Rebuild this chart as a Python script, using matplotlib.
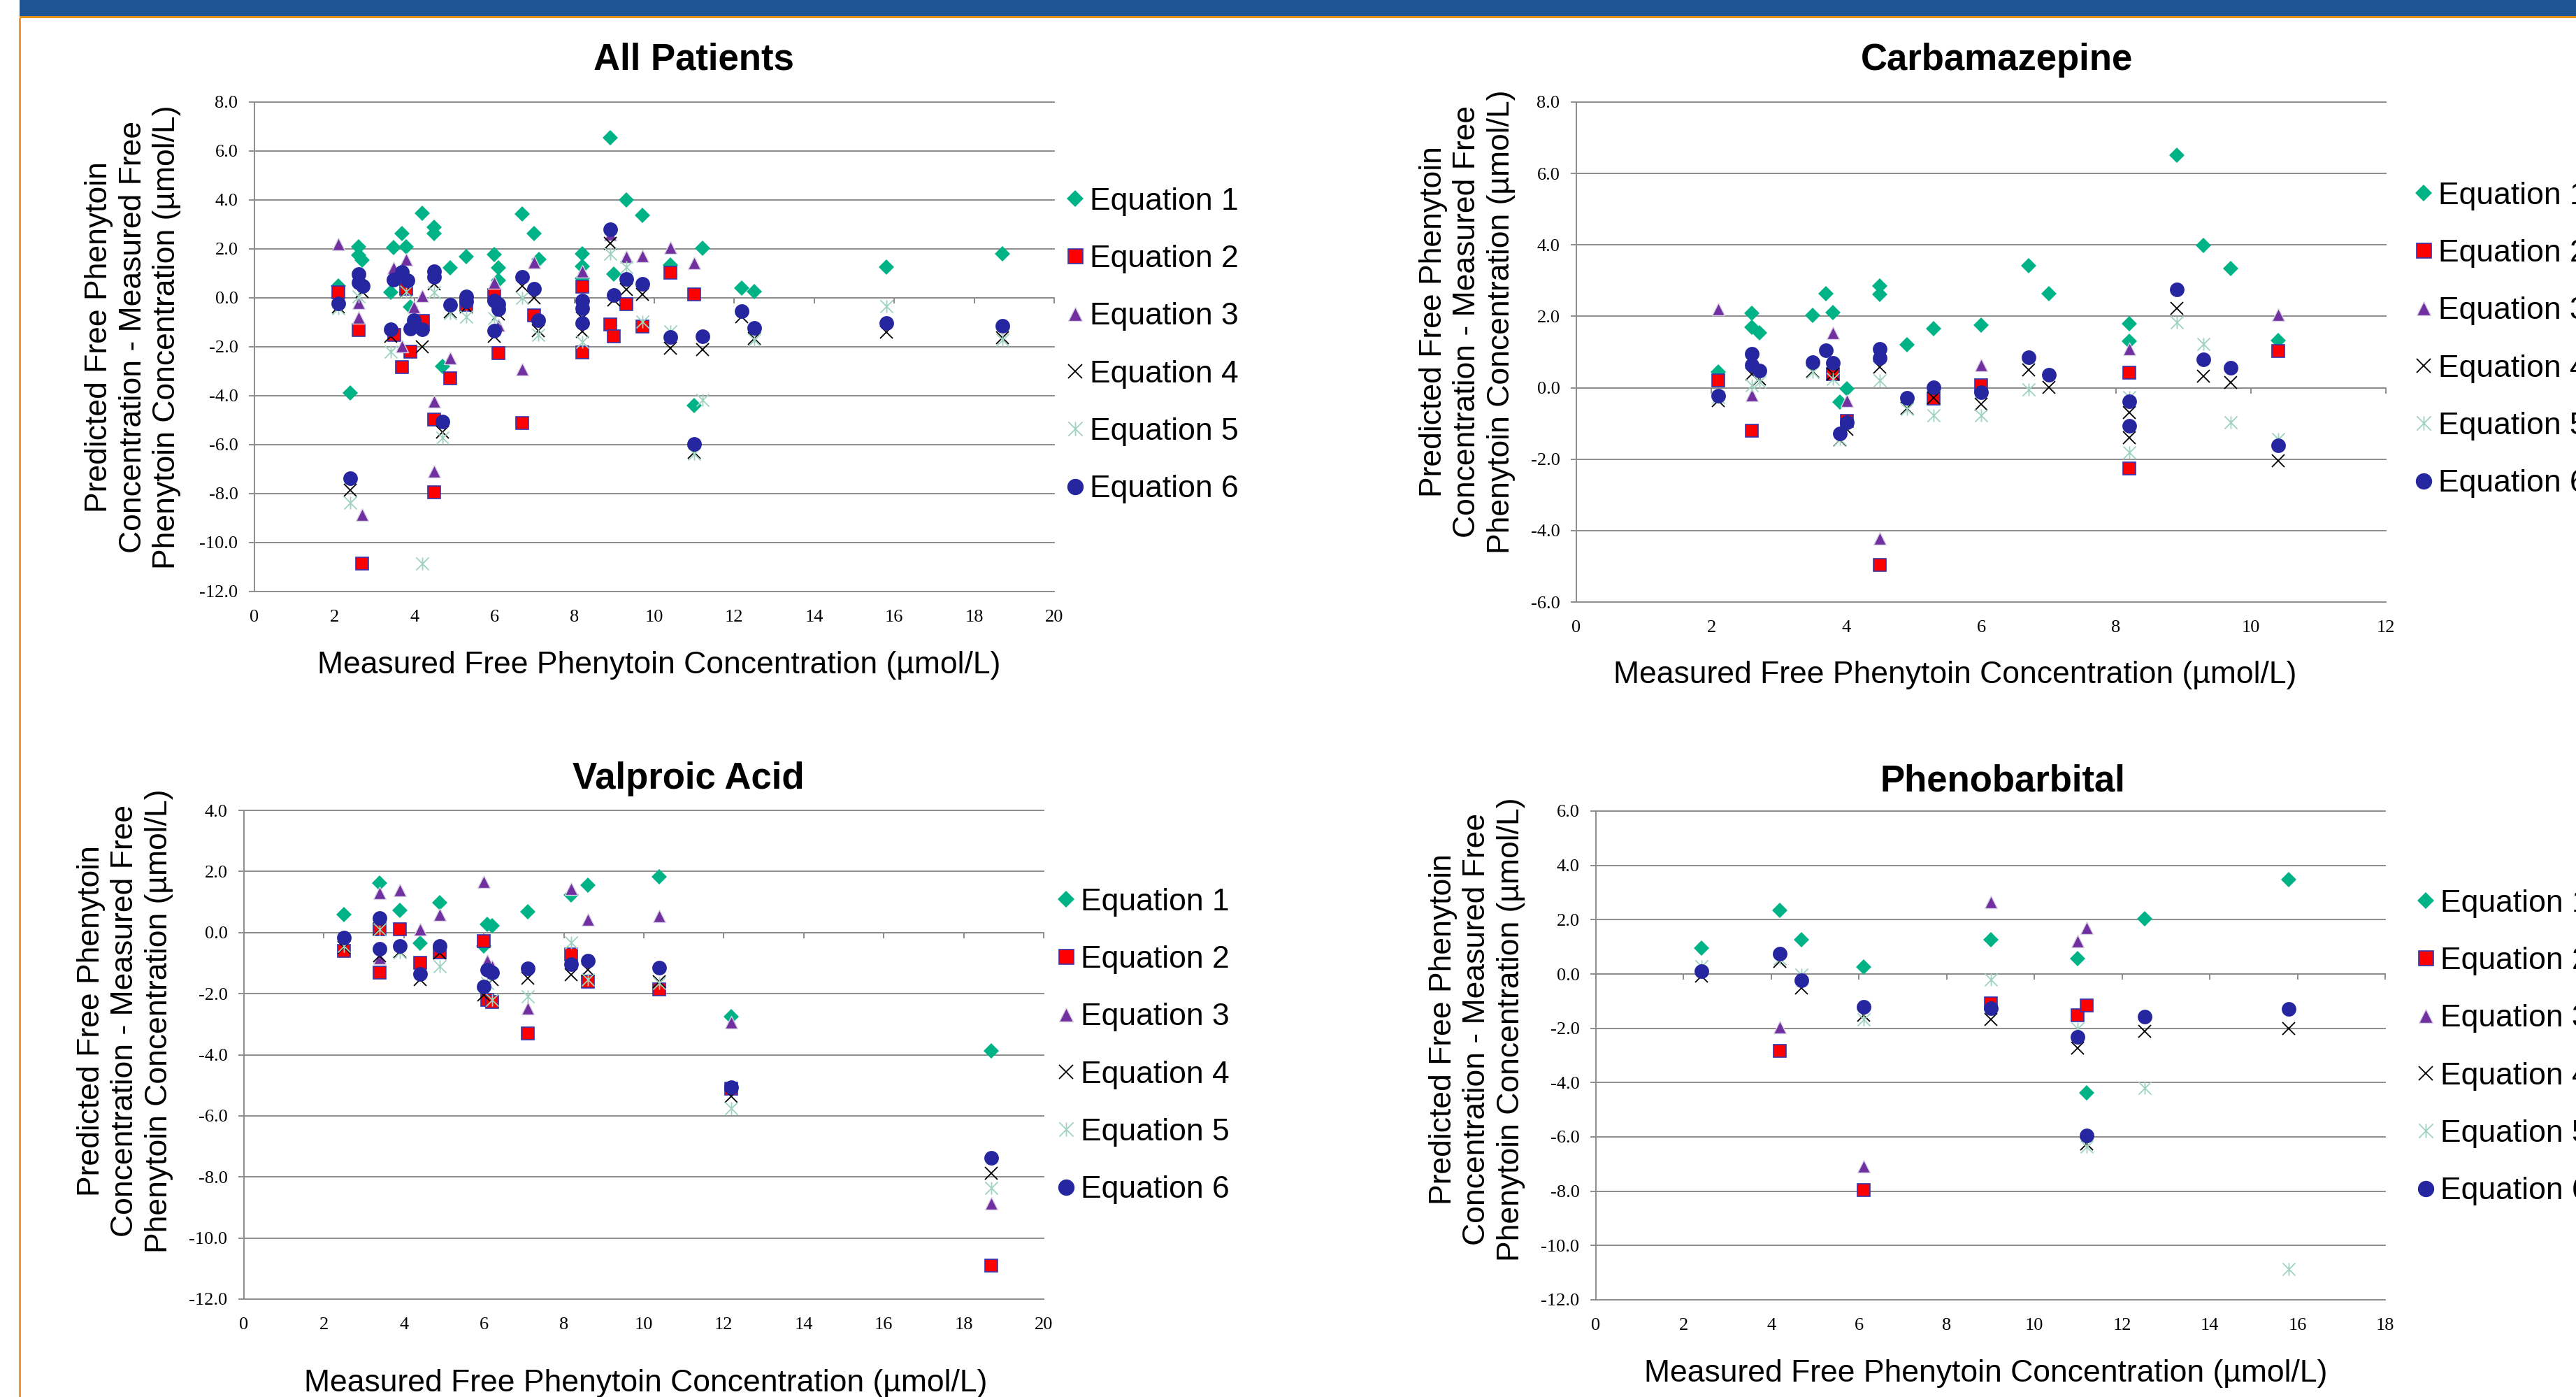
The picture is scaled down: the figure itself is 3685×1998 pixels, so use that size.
import matplotlib
matplotlib.use("Agg")
import matplotlib.pyplot as plt
from matplotlib.path import Path
from matplotlib.patches import Rectangle
from matplotlib.ticker import FormatStrFormatter, MultipleLocator

plt.rcParams["font.family"] = ["Liberation Sans", "DejaVu Sans"]
plt.rcParams["axes.unicode_minus"] = False

# -----------------------------
# 1. DATA
# -----------------------------

eq_names = ["Equation 1", "Equation 2", "Equation 3", "Equation 4", "Equation 5", "Equation 6"]

# All Patients
all_x1 = [8.90, 9.30, 9.70, 4.19, 4.50, 4.50, 3.69, 6.69, 6.99, 2.60, 2.60, 2.70, 3.48, 3.80, 5.30, 4.90, 6.00, 6.10,
          6.10, 7.12, 8.20, 8.20, 8.20, 8.99, 10.40, 11.20, 12.19, 12.50, 2.10, 2.40, 3.41, 3.90, 4.70, 11.00, 15.80, 18.70]
all_y1 = [6.53, 3.99, 3.36, 3.47, 2.90, 2.62, 2.64, 3.42, 2.62, 2.10, 1.73, 1.54, 2.05, 2.10, 1.68, 1.22, 1.78, 1.24,
          0.72, 1.58, 1.80, 1.28, 0.80, 0.96, 1.35, 2.04, 0.40, 0.25, 0.49, -3.88, 0.22, -0.36, -2.80, -4.39, 1.27, 1.79]
all_x2 = [2.10, 2.60, 2.69, 3.50, 3.69, 3.90, 3.80, 4.21, 4.50, 4.50, 4.90, 5.30, 6.00, 6.10, 6.69, 6.99, 8.20, 8.20,
          8.90, 8.99, 9.30, 9.70, 10.40, 11.00]
all_y2 = [0.22, -1.30, -10.86, -1.52, -2.83, -2.20, 0.36, -0.94, -4.96, -7.94, -3.29, -0.29, 0.12, -2.27, -5.11, -0.70,
          0.46, -2.24, -1.08, -1.58, -0.26, -1.17, 1.04, 0.15]
all_x3 = [2.10, 2.60, 2.60, 2.69, 3.48, 3.80, 3.69, 3.99, 4.20, 4.50, 4.50, 4.90, 6.00, 6.10, 6.69, 6.99, 8.20, 8.90,
          9.30, 9.70, 10.40, 11.00]
all_y3 = [2.21, -0.19, -0.81, -8.87, 1.22, 1.56, -1.97, -0.36, 0.10, -4.22, -7.09, -2.47, 0.63, -1.10, -2.91, 1.46,
          1.08, 2.60, 1.69, 1.72, 2.06, 1.42]
all_x4 = [2.10, 2.40, 2.70, 3.41, 3.80, 4.20, 4.50, 4.70, 4.90, 5.30, 6.00, 6.10, 6.69, 6.99, 7.10, 8.20, 8.20, 8.90,
          8.99, 9.30, 9.70, 10.40, 11.00, 11.20, 12.19, 12.50, 15.80, 18.70]
all_y4 = [-0.36, -7.87, 0.26, -1.58, 0.26, -1.99, 0.56, -5.48, -0.56, -0.36, -1.58, -0.67, 0.49, -0.01, -1.35, -1.38,
          -0.83, 2.24, -0.08, 0.33, 0.15, -2.06, -6.30, -2.10, -0.77, -1.65, -1.41, -1.63]
all_x5 = [2.10, 2.40, 2.60, 3.41, 3.80, 4.50, 4.20, 4.70, 4.90, 5.30, 6.00, 6.69, 7.10, 8.20, 8.90, 9.30, 9.70, 10.40,
          11.20, 11.00, 12.50, 15.80, 18.70]
all_y5 = [-0.42, -8.37, 0.05, -2.20, 0.26, 0.22, -10.85, -5.72, -0.63, -0.77, -0.83, -0.01, -1.52, -1.79, 1.80, 1.26,
          -0.97, -1.38, -4.18, -6.37, -1.72, -0.33, -1.72]
all_x6 = [2.10, 2.40, 2.60, 2.60, 2.71, 3.41, 3.48, 3.69, 3.82, 3.99, 3.90, 4.20, 4.50, 4.50, 4.70, 4.90, 5.30, 5.30,
          6.00, 6.10, 6.10, 6.00, 6.69, 6.99, 7.10, 8.20, 8.20, 8.20, 8.90, 8.99, 9.30, 9.70, 10.40, 11.00, 11.20,
          12.19, 12.50, 15.80, 18.70]
all_y6 = [-0.22, -7.36, 0.97, 0.63, 0.49, -1.28, 0.74, 1.07, 0.71, -0.90, -1.27, -1.28, 1.08, 0.87, -5.07, -0.29, 0.05,
          -0.15, -0.12, -0.26, -0.45, -1.35, 0.87, 0.37, -0.90, -0.12, -0.42, -1.04, 2.79, 0.12, 0.78, 0.57, -1.61,
          -5.96, -1.58, -0.53, -1.22, -1.04, -1.15]

# Carbamazepine
cbz_x1 = [2.10, 2.60, 2.60, 2.71, 3.50, 3.70, 3.80, 3.91, 4.01, 4.50, 4.50, 4.90, 5.30, 6.00, 6.70, 7.00, 8.20, 8.20,
          8.90, 9.30, 9.70, 10.40]
cbz_y1 = [0.44, 2.08, 1.70, 1.54, 2.03, 2.63, 2.10, -0.40, -0.03, 2.85, 2.61, 1.21, 1.66, 1.75, 3.41, 2.63, 1.80, 1.30,
          6.52, 3.98, 3.34, 1.33]
cbz_x2 = [2.10, 2.60, 3.80, 4.01, 4.50, 5.30, 6.00, 8.20, 8.20, 10.40]
cbz_y2 = [0.20, -1.20, 0.39, -0.92, -4.97, -0.31, 0.07, 0.42, -2.26, 1.02]
cbz_x3 = [2.10, 2.60, 3.80, 4.01, 4.50, 6.00, 8.20, 10.40]
cbz_y3 = [2.20, -0.20, 1.54, -0.36, -4.22, 0.63, 1.08, 2.05]
cbz_x4 = [2.10, 2.60, 2.71, 3.50, 3.80, 3.91, 4.01, 4.50, 4.90, 5.30, 6.00, 6.70, 7.00, 8.20, 8.20, 8.90, 9.30, 9.70,
          10.40]
cbz_y4 = [-0.36, 0.39, 0.25, 0.46, 0.39, -1.46, -1.17, 0.58, -0.57, -0.29, -0.45, 0.51, 0.02, -0.70, -1.40, 2.22, 0.32,
          0.14, -2.04]
cbz_x5 = [2.10, 2.60, 2.71, 3.50, 3.80, 3.91, 4.50, 4.90, 5.30, 6.00, 6.70, 8.20, 8.20, 8.90, 9.30, 9.70, 10.40]
cbz_y5 = [-0.26, 0.07, 0.16, 0.44, 0.25, -1.43, 0.21, -0.59, -0.78, -0.78, -0.05, -0.26, -1.81, 1.84, 1.22, -0.96,
          -1.43]
cbz_x6 = [2.10, 2.60, 2.60, 2.71, 3.50, 3.70, 3.80, 3.91, 4.01, 4.50, 4.50, 4.90, 5.30, 6.00, 6.70, 7.00, 8.20, 8.20,
          8.90, 9.30, 9.70, 10.40]
cbz_y6 = [-0.23, 0.96, 0.63, 0.49, 0.72, 1.05, 0.70, -1.29, -0.96, 1.08, 0.84, -0.29, 0.02, -0.12, 0.86, 0.37, -0.38,
          -1.06, 2.76, 0.79, 0.56, -1.62]

# Valproic Acid
vpa_x1 = [2.50, 3.40, 3.90, 4.40, 4.90, 6.09, 6.21, 5.99, 7.10, 8.19, 8.60, 10.39, 12.19, 18.69]
vpa_y1 = [0.60, 1.62, 0.72, -0.35, 0.98, 0.27, 0.23, -0.43, 0.68, 1.23, 1.56, 1.82, -2.76, -3.87]
vpa_x2 = [2.50, 3.40, 3.40, 3.90, 4.40, 4.90, 5.99, 6.09, 6.21, 7.10, 8.19, 8.60, 10.39, 12.19, 18.69]
vpa_y2 = [-0.60, 0.10, -1.32, 0.12, -0.99, -0.65, -0.27, -2.21, -2.28, -3.31, -0.71, -1.60, -1.87, -5.11, -10.89]
vpa_x3 = [3.40, 3.40, 3.90, 4.40, 4.90, 5.99, 6.09, 6.21, 7.10, 8.19, 8.60, 10.39, 12.19, 18.69]
vpa_y3 = [1.29, -0.82, 1.40, 0.10, 0.59, 1.67, -0.93, -1.10, -2.48, 1.43, 0.42, 0.54, -2.93, -8.86]
vpa_x4 = [2.50, 3.40, 3.40, 3.90, 4.40, 4.90, 5.99, 6.21, 7.10, 8.19, 8.60, 10.39, 12.19, 18.69]
vpa_y4 = [-0.49, 0.12, -0.76, -0.63, -1.54, -0.68, -2.04, -1.54, -1.49, -1.37, -1.21, -1.60, -5.37, -7.89]
vpa_x5 = [2.50, 3.40, 3.90, 4.90, 6.09, 6.21, 7.10, 8.19, 8.60, 10.39, 12.19, 18.69]
vpa_y5 = [-0.43, 0.12, -0.65, -1.10, -1.65, -2.21, -2.10, -0.32, -1.54, -1.65, -5.75, -8.36]
vpa_x6 = [2.50, 3.40, 3.40, 3.90, 4.40, 4.90, 5.99, 6.09, 6.21, 7.10, 8.19, 8.60, 10.39, 12.19, 18.69]
vpa_y6 = [-0.16, 0.48, -0.54, -0.43, -1.35, -0.45, -1.76, -1.21, -1.30, -1.18, -1.04, -0.91, -1.15, -5.07, -7.38]

# Phenobarbital
pb_x1 = [2.40, 4.20, 4.69, 6.10, 9.00, 10.99, 11.20, 12.51, 15.80]
pb_y1 = [0.95, 2.34, 1.25, 0.26, 1.26, 0.56, -4.39, 2.03, 3.47]
pb_x2 = [4.20, 6.10, 9.00, 10.99, 11.20]
pb_y2 = [-2.83, -7.96, -1.08, -1.52, -1.17]
pb_x3 = [4.20, 6.10, 9.00, 10.99, 11.20]
pb_y3 = [-1.96, -7.09, 2.66, 1.22, 1.70]
pb_x4 = [2.40, 4.20, 4.69, 6.10, 9.00, 10.99, 11.20, 12.51, 15.80]
pb_y4 = [-0.09, 0.47, -0.52, -1.52, -1.67, -2.73, -6.26, -2.11, -2.00]
pb_x5 = [2.40, 4.20, 4.69, 6.10, 9.00, 10.99, 11.20, 12.51, 15.80]
pb_y5 = [0.29, 0.56, -0.02, -1.67, -0.21, -2.02, -6.35, -4.20, -10.87]
pb_x6 = [2.40, 4.20, 4.69, 6.10, 9.00, 10.99, 11.20, 12.51, 15.80]
pb_y6 = [0.10, 0.75, -0.24, -1.21, -1.27, -2.31, -5.96, -1.58, -1.30]

# -----------------------------
# 2. FIGURE + STYLES
# -----------------------------

W, H = 3685, 1998
fig = plt.figure(figsize=(W / 100, H / 100), dpi=100)


def fx(px):
    return px / W


def fy(py):
    return 1 - py / H


GRID = "#8c8c8c"
ASTERISK = Path([(0, -1), (0, 1), (-1, -1), (1, 1), (-1, 1), (1, -1)], [Path.MOVETO, Path.LINETO] * 3)

STYLES = [
    dict(marker="D", markersize=11, color="#00b386", markeredgewidth=0),
    dict(marker="s", markersize=13.5, markerfacecolor="#ff0000", markeredgecolor="#3535b0", markeredgewidth=1.2),
    dict(marker="^", markersize=13, markerfacecolor="#7030a0", markeredgecolor="#d9d2e3", markeredgewidth=1.0),
    dict(marker="x", markersize=12.5, color="black", markeredgewidth=1.3),
    dict(marker=ASTERISK, markersize=13, color="#9fd3bf", markeredgewidth=1.3),
    dict(marker="o", markersize=15, color="#2626a0", markeredgewidth=0),
]

YLABEL = "Predicted Free Phenytoin\nConcentration - Measured Free\nPhenytoin Concentration (µmol/L)"
XLABEL = "Measured Free Phenytoin Concentration (µmol/L)"


def draw_panel(box, series, ylim, xmax, title, title_xy, xlabel_xy, ylabel_xy, legend_xy):
    left, right, top, bottom = box
    ax = fig.add_axes([fx(left), fy(bottom), (right - left) / W, (bottom - top) / H])
    for k, ((xs, ys), st) in enumerate(zip(series, STYLES)):
        ax.plot(xs, ys, linestyle="none", label=eq_names[k], zorder=3 + k, **st)

    ax.set_xlim(0, xmax)
    ax.set_ylim(*ylim)
    ax.yaxis.set_major_locator(MultipleLocator(2))
    ax.yaxis.set_major_formatter(FormatStrFormatter("%.1f"))
    ax.xaxis.set_major_locator(MultipleLocator(2))
    ax.grid(axis="y", color=GRID, linewidth=1.4)
    for gl in ax.get_ygridlines():
        gl.set_clip_on(False)
    ax.set_axisbelow(True)

    for s in ["top", "right"]:
        ax.spines[s].set_visible(False)
    ax.spines["left"].set_color(GRID)
    ax.spines["left"].set_linewidth(1.4)
    # horizontal axis crosses at zero, labels sit at the bottom
    ax.spines["bottom"].set_position(("data", 0))
    ax.spines["bottom"].set_color(GRID)
    ax.spines["bottom"].set_linewidth(1.4)
    ax.tick_params(axis="x", direction="out", length=6, width=1.4, color=GRID, labelbottom=False)
    ax.tick_params(axis="y", direction="out", length=6, width=1.4, color=GRID, pad=11,
                   labelsize=19, labelfontfamily="Liberation Serif")

    sec = ax.secondary_xaxis("bottom")
    sec.xaxis.set_major_locator(MultipleLocator(2))
    sec.spines["bottom"].set_visible(False)
    sec.tick_params(length=0, pad=19, labelsize=19, labelfontfamily="Liberation Serif")

    fig.text(fx(title_xy[0]), fy(title_xy[1]), title, fontsize=38, fontweight="bold",
             ha="center", va="baseline")
    fig.text(fx(xlabel_xy[0]), fy(xlabel_xy[1]), XLABEL, fontsize=32, ha="center", va="baseline")
    fig.text(fx(ylabel_xy[0]), fy(ylabel_xy[1]), YLABEL, fontsize=32, rotation=90,
             ha="center", va="center", multialignment="center", linespacing=1.24)

    ax.legend(loc="center left", bbox_to_anchor=(fx(legend_xy[0]), fy(legend_xy[1])),
              bbox_transform=fig.transFigure, frameon=False, fontsize=32, numpoints=1, markerscale=1.12,
              handlelength=0.5, handletextpad=0.22, labelspacing=0.93, borderpad=0, borderaxespad=0)
    return ax


# -----------------------------
# 3. PANELS
# -----------------------------

draw_panel((364, 1508, 146, 846),
           [(all_x1, all_y1), (all_x2, all_y2), (all_x3, all_y3), (all_x4, all_y4), (all_x5, all_y5), (all_x6, all_y6)],
           (-12, 8), 20, "All Patients", (992, 100), (943, 963), (190, 482), (1527, 494))

draw_panel((2255, 3413, 146, 861),
           [(cbz_x1, cbz_y1), (cbz_x2, cbz_y2), (cbz_x3, cbz_y3), (cbz_x4, cbz_y4), (cbz_x5, cbz_y5), (cbz_x6, cbz_y6)],
           (-6, 8), 12, "Carbamazepine", (2856, 100), (2797, 977), (2099, 460), (3456, 486))

draw_panel((349, 1493, 1159, 1858),
           [(vpa_x1, vpa_y1), (vpa_x2, vpa_y2), (vpa_x3, vpa_y3), (vpa_x4, vpa_y4), (vpa_x5, vpa_y5), (vpa_x6, vpa_y6)],
           (-12, 4), 20, "Valproic Acid", (985, 1128), (924, 1990), (179, 1460), (1514, 1496))

draw_panel((2283, 3412, 1160, 1859),
           [(pb_x1, pb_y1), (pb_x2, pb_y2), (pb_x3, pb_y3), (pb_x4, pb_y4), (pb_x5, pb_y5), (pb_x6, pb_y6)],
           (-12, 6), 18, "Phenobarbital", (2865, 1131), (2841, 1976), (2113, 1472), (3459, 1498))

# -----------------------------
# 4. SLIDE FRAME
# -----------------------------

fig.add_artist(Rectangle((fx(28), fy(23)), 1, 23 / H, transform=fig.transFigure, color="#1f5494", lw=0))
fig.add_artist(Rectangle((fx(28), fy(26)), 1, 3 / H, transform=fig.transFigure, color="#e8921e", lw=0))
fig.add_artist(Rectangle((fx(27), 0), 3 / W, fy(26), transform=fig.transFigure, color="#ec9a2a", lw=0))

fig.savefig("out.png", dpi=100)
